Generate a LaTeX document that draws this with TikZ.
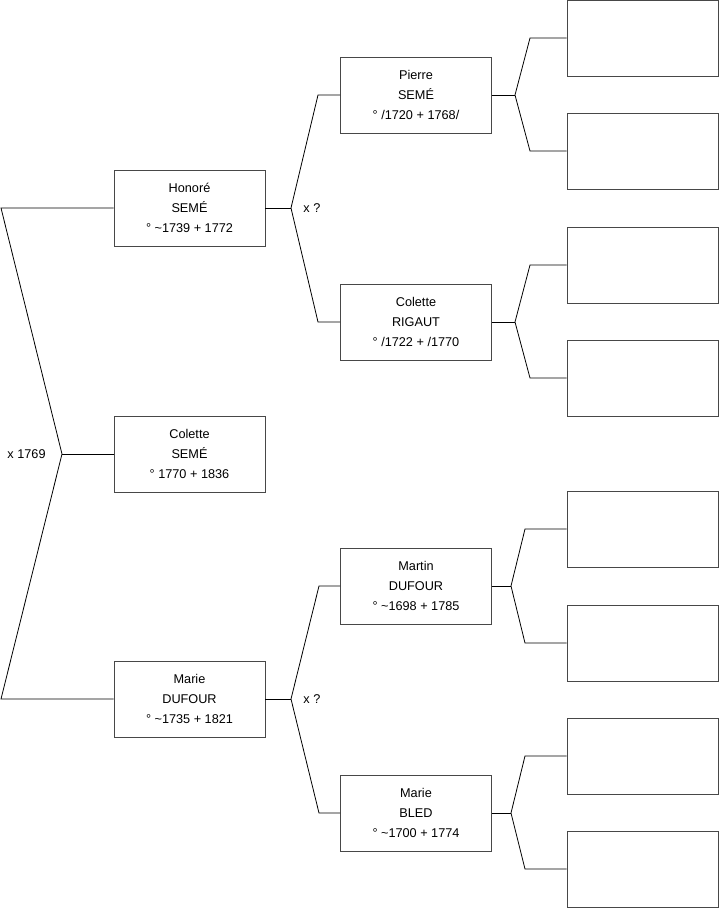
\documentclass[tikz,border=0pt]{standalone}
\usepackage{fontspec}
\setmainfont{Liberation Sans}
\usetikzlibrary{positioning}
\definecolor{boxline}{RGB}{72,72,72}

\begin{document}
\begin{tikzpicture}[x=1pt, y=-1pt, line width=0.8pt,
        font=\fontsize{12.7}{20}\selectfont,
        person/.style={rectangle, draw=boxline, fill=white, minimum width=151pt,
                       minimum height=76pt, align=center, inner sep=2pt},
        wedding/.style={inner sep=0pt}
    ]
        \useasboundingbox (0,0) rectangle (719,908);

        % child and parents
        \node[person] (colette) at (189.5,454) {Colette\\SEMÉ\\° 1770 + 1836};
        \node[person] (honore)  at (189.5,208) {Honoré\\SEMÉ\\° \textasciitilde1739 + 1772};
        \node[person] (marie)   at (189.5,699) {Marie\\DUFOUR\\° \textasciitilde1735 + 1821};

        % grandparents
        \node[person] (pierre) at (416,95)  {Pierre\\SEMÉ\\° /1720 + 1768/};
        \node[person] (rigaut) at (416,322) {Colette\\RIGAUT\\° /1722 + /1770};
        \node[person] (martin) at (416,586) {Martin\\DUFOUR\\° \textasciitilde1698 + 1785};
        \node[person] (bled)   at (416,813) {Marie\\BLED\\° \textasciitilde1700 + 1774};

        % unknown great-grandparents
        \foreach \y [count=\i] in {38,151,265,378,529,643,756,869}
            \node[person] (anc\i) at (642.5,\y) {};

        % forks
        \coordinate (fk0) at (62,454);
        \coordinate (c0a) at (1,208);
        \coordinate (c0b) at (1,699);
        \coordinate (fk1) at (291,208);
        \coordinate (c1a) at (318,95);
        \coordinate (c1b) at (318,322);
        \coordinate (fk2) at (291,699);
        \coordinate (c2a) at (319,586);
        \coordinate (c2b) at (319,813);
        \coordinate (fk3) at (515,95);
        \coordinate (c3a) at (530,38);
        \coordinate (c3b) at (530,151);
        \coordinate (fk4) at (515,322);
        \coordinate (c4a) at (530,265);
        \coordinate (c4b) at (530,378);
        \coordinate (fk5) at (511,586);
        \coordinate (c5a) at (525,529);
        \coordinate (c5b) at (525,643);
        \coordinate (fk6) at (511,813);
        \coordinate (c6a) at (525,756);
        \coordinate (c6b) at (525,869);

        \draw (honore.west) -- (c0a) -- (fk0) -- (c0b) -- (marie.west);
        \draw (fk0) -- (colette.west);
        \draw (honore.east) -- (fk1);
        \draw (pierre.west) -- (c1a) -- (fk1) -- (c1b) -- (rigaut.west);
        \draw (marie.east) -- (fk2);
        \draw (martin.west) -- (c2a) -- (fk2) -- (c2b) -- (bled.west);
        \draw (pierre.east) -- (fk3);
        \draw (anc1.west) -- (c3a) -- (fk3) -- (c3b) -- (anc2.west);
        \draw (rigaut.east) -- (fk4);
        \draw (anc3.west) -- (c4a) -- (fk4) -- (c4b) -- (anc4.west);
        \draw (martin.east) -- (fk5);
        \draw (anc5.west) -- (c5a) -- (fk5) -- (c5b) -- (anc6.west);
        \draw (bled.east) -- (fk6);
        \draw (anc7.west) -- (c6a) -- (fk6) -- (c6b) -- (anc8.west);

        % marriages
        \node[wedding, left=16pt of fk0] (m0) {x 1769};
        \node[wedding, right=12pt of fk1] (m1) {x ?};
        \node[wedding, right=12pt of fk2] (m2) {x ?};
    \end{tikzpicture}
\end{document}
